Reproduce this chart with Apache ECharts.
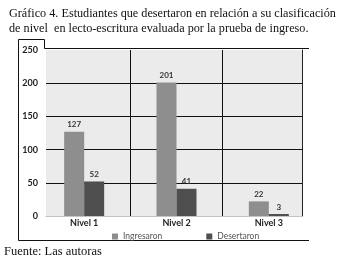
<!DOCTYPE html>
<html>
<head>
<meta charset="utf-8">
<script src="https://cdn.jsdelivr.net/npm/echarts@6/dist/echarts.min.js"></script>
<style>
  html, body { margin: 0; padding: 0; background: #fff; }
  #chart { width: 342px; height: 263px; }
</style>
</head>
<body>
<div id="chart"></div>
<script>
// datos
const niveles = ['Nivel 1', 'Nivel 2', 'Nivel 3'];
const ingresaron = [127, 201, 22];
const desertaron = [52, 41, 3];
const yTicks = [0, 50, 100, 150, 200, 250];

const serif = 'Liberation Serif';
const sans = 'Lato';

const chart = echarts.init(document.getElementById('chart'), null, { renderer: 'canvas' });

const yMin = yTicks[0];
const yMax = yTicks[yTicks.length - 1];
const yStep = yTicks[1] - yTicks[0];

chart.setOption({
  animation: false,
  backgroundColor: '#fff',
  textStyle: { fontFamily: sans },
  title: {
    text: 'Gráfico 4. Estudiantes que desertaron en relación a su clasificación\nde nivel  en lecto-escritura evaluada por la prueba de ingreso.',
    left: 4,
    top: 1,
    textStyle: { fontFamily: serif, fontSize: 12.2, fontWeight: 'normal', color: '#111', lineHeight: 15 }
  },
  graphic: [
    {
      type: 'polyline',
      shape: { points: [[309, 48.5], [44.5, 48.5], [44.5, 39.5], [18.5, 39.5], [18.5, 240.5], [309, 240.5]] },
      style: { stroke: '#111', lineWidth: 1, fill: null }
    },
    {
      type: 'text',
      left: 4,
      top: 245,
      style: { text: 'Fuente: Las autoras', fontFamily: serif, fontSize: 12.5, fill: '#111' }
    }
  ],
  legend: {
    data: ['Ingresaron', 'Desertaron'],
    left: 107,
    top: 227,
    icon: 'rect',
    itemWidth: 6,
    itemHeight: 6,
    itemGap: 44,
    textStyle: { fontSize: 8.5, color: '#555', fontFamily: sans }
  },
  grid: [
    // fondo del area de trazado
    { left: 46, right: 40, top: 50, bottom: 47, show: true, backgroundColor: '#ebebeb', borderWidth: 0 },
    // barras
    { left: 38, right: 27, top: 50, bottom: 47 }
  ],
  xAxis: [
    {
      gridIndex: 0, type: 'value', min: 0, max: 1,
      axisLine: { show: true, lineStyle: { color: '#c4c4c4', width: 1 } },
      axisTick: { show: false }, axisLabel: { show: false }, splitLine: { show: false }
    },
    {
      gridIndex: 1, type: 'category', data: niveles,
      axisLine: { show: false }, axisTick: { show: false },
      axisLabel: { margin: 3, fontSize: 9, fontWeight: 'bold', color: '#222', fontFamily: sans },
      splitLine: { show: true, showMinLine: false, showMaxLine: false, lineStyle: { color: '#111', width: 1 } }
    }
  ],
  yAxis: [
    {
      gridIndex: 0, type: 'value', min: yMin, max: yMax, interval: yStep,
      axisLine: { show: false }, axisTick: { show: false },
      axisLabel: { margin: 8, fontSize: 9, fontWeight: 'bold', color: '#222', fontFamily: sans },
      splitLine: { show: true, showMinLine: false, showMaxLine: false, lineStyle: { color: '#111', width: 1 } }
    },
    {
      gridIndex: 0, type: 'value', position: 'right', min: yMin, max: yMax,
      axisLine: { show: true, lineStyle: { color: '#222', width: 1 } },
      axisTick: { show: false }, axisLabel: { show: false }, splitLine: { show: false }
    },
    {
      gridIndex: 1, type: 'value', min: yMin, max: yMax, interval: yStep, show: false
    }
  ],
  series: [
    {
      name: 'Ingresaron', type: 'bar', xAxisIndex: 1, yAxisIndex: 2,
      data: ingresaron, barWidth: 20, barGap: '0%',
      itemStyle: { color: '#8e8e8e' },
      label: { show: true, position: 'top', distance: 3, fontSize: 8, fontWeight: 'bold', color: '#333', fontFamily: sans }
    },
    {
      name: 'Desertaron', type: 'bar', xAxisIndex: 1, yAxisIndex: 2,
      data: desertaron, barWidth: 20, barGap: '0%',
      itemStyle: { color: '#4f4f4f' },
      label: { show: true, position: 'top', distance: 3, fontSize: 8, fontWeight: 'bold', color: '#333', fontFamily: sans }
    }
  ]
});
</script>
</body>
</html>
